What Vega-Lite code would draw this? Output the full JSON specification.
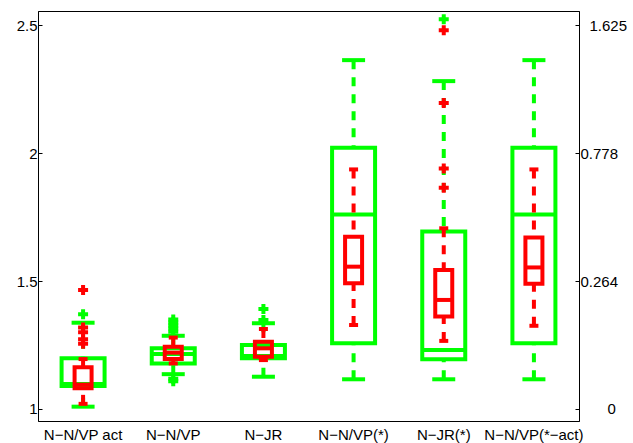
{
  "$schema": "https://vega.github.io/schema/vega-lite/v6.json",
  "width": 541,
  "height": 410,
  "autosize": {"type": "none"},
  "padding": {"left": 38, "top": 11, "right": 54, "bottom": 22},
  "background": "white",
  "datasets": {
    "boxes": [
      {"cat": "N−N/VP act", "s": "g", "lower": 1.009, "q1": 1.090, "med": 1.098, "q3": 1.198, "upper": 1.337},
      {"cat": "N−N/VP", "s": "g", "lower": 1.136, "q1": 1.178, "med": 1.215, "q3": 1.237, "upper": 1.286},
      {"cat": "N−JR", "s": "g", "lower": 1.126, "q1": 1.198, "med": 1.207, "q3": 1.250, "upper": 1.335},
      {"cat": "N−N/VP(*)", "s": "g", "lower": 1.116, "q1": 1.257, "med": 1.760, "q3": 2.021, "upper": 2.363},
      {"cat": "N−JR(*)", "s": "g", "lower": 1.116, "q1": 1.194, "med": 1.230, "q3": 1.693, "upper": 2.281},
      {"cat": "N−N/VP(*−act)", "s": "g", "lower": 1.116, "q1": 1.257, "med": 1.760, "q3": 2.021, "upper": 2.363},
      {"cat": "N−N/VP act", "s": "r", "lower": 1.020, "q1": 1.081, "med": 1.095, "q3": 1.163, "upper": 1.195},
      {"cat": "N−N/VP", "s": "r", "lower": 1.178, "q1": 1.195, "med": 1.220, "q3": 1.243, "upper": 1.279},
      {"cat": "N−JR", "s": "r", "lower": 1.191, "q1": 1.204, "med": 1.237, "q3": 1.263, "upper": 1.3125},
      {"cat": "N−N/VP(*)", "s": "r", "lower": 1.328, "q1": 1.491, "med": 1.556, "q3": 1.673, "upper": 1.936},
      {"cat": "N−JR(*)", "s": "r", "lower": 1.266, "q1": 1.361, "med": 1.426, "q3": 1.543, "upper": 1.706},
      {"cat": "N−N/VP(*−act)", "s": "r", "lower": 1.325, "q1": 1.489, "med": 1.553, "q3": 1.670, "upper": 1.936}
    ],
    "outliers": [
      {"cat": "N−N/VP act", "s": "g", "v": 1.370},
      {"cat": "N−N/VP", "s": "g", "v": 1.350},
      {"cat": "N−N/VP", "s": "g", "v": 1.338},
      {"cat": "N−N/VP", "s": "g", "v": 1.326},
      {"cat": "N−N/VP", "s": "g", "v": 1.314},
      {"cat": "N−N/VP", "s": "g", "v": 1.302},
      {"cat": "N−N/VP", "s": "g", "v": 1.118},
      {"cat": "N−N/VP", "s": "g", "v": 1.108},
      {"cat": "N−JR", "s": "g", "v": 1.391},
      {"cat": "N−JR", "s": "g", "v": 1.348},
      {"cat": "N−JR(*)", "s": "g", "v": 2.523},
      {"cat": "N−N/VP act", "s": "r", "v": 1.465},
      {"cat": "N−N/VP act", "s": "r", "v": 1.318},
      {"cat": "N−N/VP act", "s": "r", "v": 1.300},
      {"cat": "N−N/VP act", "s": "r", "v": 1.272},
      {"cat": "N−N/VP act", "s": "r", "v": 1.255},
      {"cat": "N−JR(*)", "s": "r", "v": 2.480},
      {"cat": "N−JR(*)", "s": "r", "v": 2.196},
      {"cat": "N−JR(*)", "s": "r", "v": 1.940},
      {"cat": "N−JR(*)", "s": "r", "v": 1.864}
    ]
  },
  "config": {
    "view": {"stroke": "black", "strokeWidth": 1},
    "axis": {"labelFont": "Liberation Sans", "labelFontSize": 15, "labelColor": "black", "domainColor": "black", "tickColor": "black", "grid": false, "title": null},
    "axisX": {"ticks": false, "domain": false, "labelAngle": 0, "labelPadding": 6}
  },
  "layer": [
    {
      "data": {"name": "boxes"},
      "transform": [{"filter": "datum.s == 'g'"}],
      "layer": [
        {"mark": {"type": "bar", "filled": false, "stroke": "#00ff00", "strokeWidth": 4, "size": 43},
         "encoding": {
           "x": {"field": "cat", "type": "nominal", "sort": ["N−N/VP act", "N−N/VP", "N−JR", "N−N/VP(*)", "N−JR(*)", "N−N/VP(*−act)"], "scale": {"type": "band", "paddingInner": 0, "paddingOuter": 0}, "title": null},
           "y": {"field": "q1", "type": "quantitative", "scale": {"domain": [0.953, 2.555], "nice": false, "zero": false}, "axis": null},
           "y2": {"field": "q3"}}},
        {"mark": {"type": "rule", "stroke": "#00ff00", "strokeWidth": 4, "strokeDash": [9, 8], "strokeCap": "butt"},
         "encoding": {
           "x": {"field": "cat", "type": "nominal", "sort": ["N−N/VP act", "N−N/VP", "N−JR", "N−N/VP(*)", "N−JR(*)", "N−N/VP(*−act)"], "title": null},
           "y": {"field": "upper", "type": "quantitative", "scale": {"domain": [0.953, 2.555], "nice": false, "zero": false}, "axis": null},
           "y2": {"field": "q3"}}},
        {"mark": {"type": "rule", "stroke": "#00ff00", "strokeWidth": 4, "strokeDash": [9, 8], "strokeCap": "butt"},
         "encoding": {
           "x": {"field": "cat", "type": "nominal", "sort": ["N−N/VP act", "N−N/VP", "N−JR", "N−N/VP(*)", "N−JR(*)", "N−N/VP(*−act)"], "title": null},
           "y": {"field": "lower", "type": "quantitative", "scale": {"domain": [0.953, 2.555], "nice": false, "zero": false}, "axis": null},
           "y2": {"field": "q1"}}},
        {"mark": {"type": "tick", "color": "#00ff00", "opacity": 1, "size": 23, "thickness": 4},
         "encoding": {
           "x": {"field": "cat", "type": "nominal", "sort": ["N−N/VP act", "N−N/VP", "N−JR", "N−N/VP(*)", "N−JR(*)", "N−N/VP(*−act)"], "title": null},
           "y": {"field": "upper", "type": "quantitative", "scale": {"domain": [0.953, 2.555], "nice": false, "zero": false}, "axis": null}}},
        {"mark": {"type": "tick", "color": "#00ff00", "opacity": 1, "size": 23, "thickness": 4},
         "encoding": {
           "x": {"field": "cat", "type": "nominal", "sort": ["N−N/VP act", "N−N/VP", "N−JR", "N−N/VP(*)", "N−JR(*)", "N−N/VP(*−act)"], "title": null},
           "y": {"field": "lower", "type": "quantitative", "scale": {"domain": [0.953, 2.555], "nice": false, "zero": false}, "axis": null}}},
        {"mark": {"type": "tick", "color": "#00ff00", "opacity": 1, "size": 44, "thickness": 4},
         "encoding": {
           "x": {"field": "cat", "type": "nominal", "sort": ["N−N/VP act", "N−N/VP", "N−JR", "N−N/VP(*)", "N−JR(*)", "N−N/VP(*−act)"], "title": null},
           "y": {"field": "med", "type": "quantitative", "scale": {"domain": [0.953, 2.555], "nice": false, "zero": false}, "axis": null}}}
      ]
    },
    {
      "data": {"name": "outliers"},
      "transform": [{"filter": "datum.s == 'g'"}],
      "mark": {"type": "point", "shape": "cross", "filled": true, "color": "#00ff00", "opacity": 1, "size": 100, "strokeWidth": 0},
      "encoding": {
        "x": {"field": "cat", "type": "nominal", "sort": ["N−N/VP act", "N−N/VP", "N−JR", "N−N/VP(*)", "N−JR(*)", "N−N/VP(*−act)"], "title": null},
        "y": {"field": "v", "type": "quantitative", "scale": {"domain": [0.953, 2.555], "nice": false, "zero": false}, "axis": null}}
    },
    {
      "data": {"name": "boxes"},
      "transform": [{"filter": "datum.s == 'r'"}],
      "layer": [
        {"mark": {"type": "bar", "filled": false, "stroke": "#ff0000", "strokeWidth": 4, "size": 17},
         "encoding": {
           "x": {"field": "cat", "type": "nominal", "sort": ["N−N/VP act", "N−N/VP", "N−JR", "N−N/VP(*)", "N−JR(*)", "N−N/VP(*−act)"], "title": null},
           "y": {"field": "q1", "type": "quantitative", "scale": {"domain": [0.953, 2.555], "nice": false, "zero": false}, "axis": null},
           "y2": {"field": "q3"}}},
        {"mark": {"type": "rule", "stroke": "#ff0000", "strokeWidth": 4, "strokeDash": [9, 8], "strokeCap": "butt"},
         "encoding": {
           "x": {"field": "cat", "type": "nominal", "sort": ["N−N/VP act", "N−N/VP", "N−JR", "N−N/VP(*)", "N−JR(*)", "N−N/VP(*−act)"], "title": null},
           "y": {"field": "upper", "type": "quantitative", "scale": {"domain": [0.953, 2.555], "nice": false, "zero": false}, "axis": null},
           "y2": {"field": "q3"}}},
        {"mark": {"type": "rule", "stroke": "#ff0000", "strokeWidth": 4, "strokeDash": [9, 8], "strokeCap": "butt"},
         "encoding": {
           "x": {"field": "cat", "type": "nominal", "sort": ["N−N/VP act", "N−N/VP", "N−JR", "N−N/VP(*)", "N−JR(*)", "N−N/VP(*−act)"], "title": null},
           "y": {"field": "lower", "type": "quantitative", "scale": {"domain": [0.953, 2.555], "nice": false, "zero": false}, "axis": null},
           "y2": {"field": "q1"}}},
        {"mark": {"type": "tick", "color": "#ff0000", "opacity": 1, "size": 9, "thickness": 4},
         "encoding": {
           "x": {"field": "cat", "type": "nominal", "sort": ["N−N/VP act", "N−N/VP", "N−JR", "N−N/VP(*)", "N−JR(*)", "N−N/VP(*−act)"], "title": null},
           "y": {"field": "upper", "type": "quantitative", "scale": {"domain": [0.953, 2.555], "nice": false, "zero": false}, "axis": null}}},
        {"mark": {"type": "tick", "color": "#ff0000", "opacity": 1, "size": 9, "thickness": 4},
         "encoding": {
           "x": {"field": "cat", "type": "nominal", "sort": ["N−N/VP act", "N−N/VP", "N−JR", "N−N/VP(*)", "N−JR(*)", "N−N/VP(*−act)"], "title": null},
           "y": {"field": "lower", "type": "quantitative", "scale": {"domain": [0.953, 2.555], "nice": false, "zero": false}, "axis": null}}},
        {"mark": {"type": "tick", "color": "#ff0000", "opacity": 1, "size": 18, "thickness": 4},
         "encoding": {
           "x": {"field": "cat", "type": "nominal", "sort": ["N−N/VP act", "N−N/VP", "N−JR", "N−N/VP(*)", "N−JR(*)", "N−N/VP(*−act)"], "title": null},
           "y": {"field": "med", "type": "quantitative", "scale": {"domain": [0.953, 2.555], "nice": false, "zero": false}, "axis": null}}}
      ]
    },
    {
      "data": {"name": "outliers"},
      "transform": [{"filter": "datum.s == 'r'"}],
      "mark": {"type": "point", "shape": "cross", "filled": true, "color": "#ff0000", "opacity": 1, "size": 100, "strokeWidth": 0},
      "encoding": {
        "x": {"field": "cat", "type": "nominal", "sort": ["N−N/VP act", "N−N/VP", "N−JR", "N−N/VP(*)", "N−JR(*)", "N−N/VP(*−act)"], "title": null},
        "y": {"field": "v", "type": "quantitative", "scale": {"domain": [0.953, 2.555], "nice": false, "zero": false}, "axis": null}}
    },
    {
      "data": {"name": "boxes"},
      "mark": {"type": "rule", "opacity": 0},
      "encoding": {
        "y": {"field": "q1", "type": "quantitative", "scale": {"domain": [0.953, 2.555], "nice": false, "zero": false},
              "axis": {"orient": "left", "values": [1, 1.5, 2, 2.5], "labelExpr": "toString(datum.value)", "tickSize": -4, "labelPadding": 5, "title": null}}}
    },
    {
      "data": {"name": "boxes"},
      "mark": {"type": "rule", "opacity": 0},
      "encoding": {
        "y": {"field": "q3", "type": "quantitative", "scale": {"domain": [0.953, 2.555], "nice": false, "zero": false},
              "axis": {"orient": "right", "values": [1, 1.5, 2, 2.5], "labelExpr": "datum.value == 1 ? '0' : datum.value == 1.5 ? '0.264' : datum.value == 2 ? '0.778' : '1.625'", "tickSize": -4,
                       "labelPadding": {"condition": [{"test": "datum.value == 1", "value": 32}, {"test": "datum.value == 2.5", "value": 14}], "value": 5},
                       "title": null}}}
    }
  ],
  "resolve": {"axis": {"y": "independent"}}
}
